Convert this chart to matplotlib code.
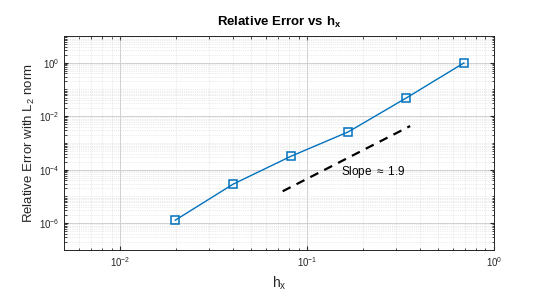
import numpy as np
import matplotlib
matplotlib.use('Agg')
import matplotlib.pyplot as plt
from matplotlib.ticker import LogLocator, NullFormatter

plt.rcParams['font.family'] = ['Liberation Sans', 'DejaVu Sans']
plt.rcParams['mathtext.fontset'] = 'custom'
plt.rcParams['mathtext.rm'] = 'Liberation Sans'
plt.rcParams['mathtext.it'] = 'Liberation Sans:italic'
plt.rcParams['mathtext.bf'] = 'Liberation Sans:bold'

# data
hx = [0.0197, 0.0402, 0.082, 0.166, 0.339, 0.69]
rel_err = [1.3e-6, 2.9e-5, 3.2e-4, 2.6e-3, 4.8e-2, 0.98]

# reference slope line
ref_x = [0.074, 0.356]
ref_y = [1.57e-5, 4.3e-3]
slope_label = 'Slope $\\approx$ 1.9'
label_pos = (0.151, 8.3e-5)

fig = plt.figure(figsize=(5.35, 2.96), dpi=100)
ax = fig.add_axes([0.1196, 0.1554, 0.8037, 0.723])

ax.loglog(hx, rel_err, '-s', color='#0072BD', lw=1.0, ms=5.5,
          mfc='none', mew=1.1, zorder=3)
ax.loglog(ref_x, ref_y, '--', color='black', lw=1.6, dashes=(4, 3), zorder=3)
ax.text(label_pos[0], label_pos[1], slope_label, fontsize=8.5,
        va='center', ha='left')

ax.set_xlim(0.005, 1)
ax.set_ylim(1e-7, 10)

ax.xaxis.set_major_locator(LogLocator(base=10, numticks=10))
ax.xaxis.set_minor_locator(LogLocator(base=10, subs=np.arange(2, 10), numticks=20))
ax.xaxis.set_minor_formatter(NullFormatter())
ax.set_yticks([1e-6, 1e-4, 1e-2, 1e0])
ax.yaxis.set_minor_locator(LogLocator(base=10, subs=np.arange(1, 10), numticks=30))
ax.yaxis.set_minor_formatter(NullFormatter())

ax.grid(True, which='major', color='#d0d0d0', lw=0.7, ls='-')
ax.grid(True, which='minor', color='#d8d8d8', lw=0.5, ls=':')
ax.set_axisbelow(True)

ax.tick_params(which='both', direction='in', top=True, right=True,
               labelsize=7, colors='#262626')
ax.tick_params(which='major', length=3)
ax.tick_params(which='minor', length=1.8)
for s in ax.spines.values():
    s.set_color('#262626')
    s.set_linewidth(0.7)

ax.set_xlabel('h$_\\mathregular{x}$', fontsize=10, color='#262626')
ax.set_ylabel('Relative Error with L$_\\mathregular{2}$ norm', fontsize=9.5,
              color='#262626', labelpad=1)
ax.set_title('Relative Error vs h$_\\mathbf{x}$', fontsize=9.5, fontweight='bold', pad=7)

fig.savefig('out.png', dpi=100)
